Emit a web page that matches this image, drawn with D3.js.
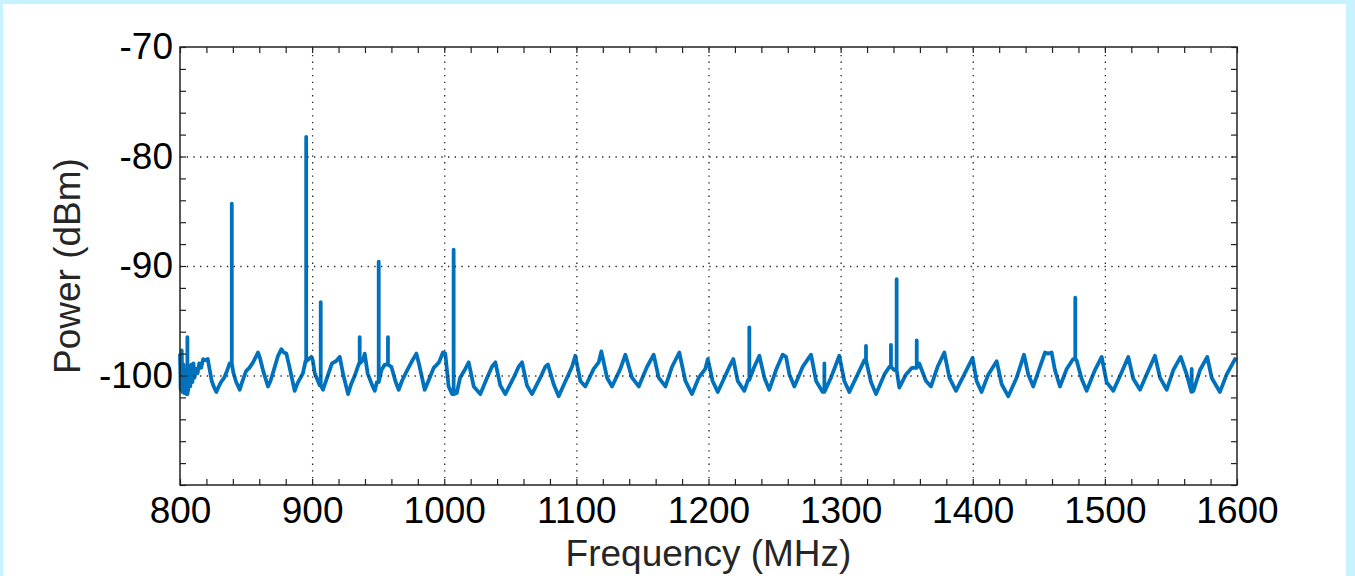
<!DOCTYPE html>
<html>
<head>
<meta charset="utf-8">
<script src="https://cdn.jsdelivr.net/npm/d3@7"></script>
<style>
  html, body { margin: 0; padding: 0; }
  body { width: 1355px; height: 576px; background: #c6f3ff; overflow: hidden; position: relative; }
  #panel { position: absolute; left: 3px; top: 4px; width: 1343px; height: 572px; background: #fff; }
  svg { position: absolute; left: 0; top: 0; }
  text { font-family: "Liberation Sans", Arial, sans-serif; }
</style>
</head>
<body>
<div id="panel"></div>
<svg id="chart" width="1355" height="576"></svg>
<script>
// x ticks (MHz) and y ticks (dBm)
const xTicks = [800, 900, 1000, 1100, 1200, 1300, 1400, 1500, 1600];
const yTicks = [-100, -90, -80, -70];
const xDomain = [800, 1600];
const yDomain = [-110, -70];

// measured trace: [frequency MHz, power dBm]
const trace = [
  [800, -98.0], [800.5, -101.3], [801.3, -97.7], [801.8, -101.5], [802.6, -99.0], [803.2, -101.6],
  [804, -99.5], [804.8, -101.7], [806.2, -101.3], [807, -99.2], [807.8, -101.0], [808.6, -99.0],
  [809.4, -100.6], [810.2, -98.9], [811, -100.2], [812, -99.4], [813.3, -99.8], [814.5, -98.9],
  [816, -99.3], [817.5, -98.5], [819, -98.6], [821, -98.5], [822.5, -99.5], [824, -100.5],
  [825.5, -101.0], [827.5, -101.5], [829, -101.1], [831, -100.6], [833.5, -100.2], [835.5, -99.6],
  [837.6, -98.9], [840.5, -99.8], [842.5, -100.6], [845.2, -101.3], [847, -100.6], [850, -99.6],
  [852.5, -99.3], [855.3, -98.8], [857, -98.4], [859, -97.9], [860.5, -98.4], [863, -99.6],
  [866.6, -101.0], [868.5, -100.5], [871.5, -99.3], [874.2, -98.2], [876.7, -97.6], [878.5, -97.9],
  [880.5, -98.0], [883, -99.3], [886.8, -101.4], [889, -100.7], [893, -99.8], [895, -98.7],
  [899.4, -98.3], [900.5, -98.6], [902, -99.8], [905.7, -100.9], [908.2, -101.3], [911, -100.3],
  [915, -98.9], [918, -98.7], [920.9, -98.3], [923.5, -99.9], [927.2, -101.7], [929.5, -100.8],
  [932, -100.1], [935.5, -98.9], [938.5, -98.6], [939.8, -98.0], [942, -99.8], [945.5, -100.9],
  [947.4, -101.4], [949, -100.6], [952.5, -99.5], [955, -99.0], [960, -99.2], [963, -100.5],
  [965.5, -101.3], [968, -100.5], [972, -99.5], [976, -98.6], [978.9, -98.0], [981, -99.0],
  [985.2, -101.3], [988, -100.5], [992, -99.3], [996, -98.8], [999, -97.9], [1000.8, -98.0],
  [1003.3, -101.0], [1006, -101.7], [1009.5, -101.6], [1012, -100.2], [1015.9, -99.4], [1018.5, -98.8],
  [1022.3, -101.0], [1027.3, -101.7], [1032.4, -100.2], [1036.1, -99.2], [1038.7, -98.8], [1042.4, -100.9],
  [1046.2, -101.7], [1052.5, -100.2], [1056.3, -99.2], [1058.9, -98.8], [1062.6, -100.9], [1066.4, -101.7],
  [1072.7, -100.2], [1076.5, -99.2], [1078.5, -99.0], [1082.8, -100.8], [1086.6, -101.9], [1092.9, -100.2],
  [1096.7, -99.2], [1099.2, -98.2], [1103, -100.5], [1106.8, -101.0], [1113.1, -99.4], [1116.9, -98.8],
  [1118.9, -97.8], [1123.2, -100.2], [1127, -101.0], [1133.3, -99.4], [1137.1, -98.1], [1142.1, -100.2],
  [1147.2, -101.0], [1153.5, -99.2], [1158.5, -98.1], [1162.3, -100.2], [1167.4, -101.0], [1172.4, -99.2],
  [1177.9, -97.9], [1182.5, -100.5], [1187.5, -101.7], [1192.6, -100.2], [1197.6, -99.4], [1199.5, -98.5],
  [1203.1, -100.5], [1207, -101.5], [1212, -100.2], [1215.8, -99.2], [1218.8, -98.5], [1222.1, -100.5],
  [1227.1, -101.4], [1230, -100.4], [1234.7, -99.2], [1238.5, -98.2], [1242.3, -100.2], [1246, -101.3],
  [1251.1, -99.5], [1256.1, -98.1], [1258.7, -98.3], [1261.2, -99.9], [1265, -101.0], [1271.3, -99.2],
  [1277.6, -98.1], [1281.4, -100.5], [1286.4, -101.5], [1292.7, -100.2], [1299, -98.2], [1302.8, -100.5],
  [1306.6, -101.5], [1312.9, -99.9], [1318, -98.6], [1323, -100.6], [1326.8, -101.7], [1333.1, -99.9],
  [1337, -99.2], [1340.5, -99.5], [1344.4, -101.1], [1349.5, -99.9], [1354, -99.3], [1359.5, -98.9],
  [1364.6, -100.5], [1368.4, -101.0], [1373.4, -99.2], [1378.5, -97.9], [1382.3, -100.2], [1387.3, -101.4],
  [1393.6, -99.9], [1399.9, -98.4], [1402.9, -100.5], [1406.7, -101.5], [1411.8, -99.9], [1418.1, -98.7],
  [1421.9, -100.8], [1426.9, -101.9], [1433.2, -100.2], [1438.8, -98.1], [1442, -99.9], [1445.8, -101.0],
  [1450.9, -99.2], [1454.7, -97.9], [1457, -98.0], [1459.7, -97.9], [1462.2, -99.5], [1466, -101.0],
  [1471.1, -99.4], [1476, -98.5], [1478.6, -98.6], [1482.4, -100.3], [1486.2, -101.4], [1492.5, -99.5],
  [1497.6, -98.3], [1501.3, -100.6], [1506.4, -101.4], [1512.7, -99.7], [1517.7, -98.3], [1521.5, -100.3],
  [1526.6, -101.3], [1531.6, -99.9], [1537.9, -98.2], [1541.7, -100.2], [1546.8, -101.3], [1551.8, -99.5],
  [1557.4, -98.3], [1561.9, -99.9], [1565.5, -101.5], [1567, -101.4], [1572, -99.5], [1577.5, -98.3],
  [1580.8, -100.2], [1587.1, -101.5], [1592.2, -99.9], [1598.5, -98.5], [1600, -98.6]
];

// narrow spurs: [frequency MHz, peak dBm]
const spurs = [
  [805.6, -96.5], [839.2, -84.3], [895.5, -78.2], [906.5, -93.3], [936, -96.5], [950.4, -89.6],
  [957.4, -96.5], [1007.1, -88.5], [1230.9, -95.6], [1287.7, -98.9], [1319.2, -97.3], [1338.1, -97.2],
  [1342.4, -91.2], [1357.6, -96.8], [1477.6, -92.9], [1565.7, -99.4]
];

const margin = { top: 47, right: 118, bottom: 91, left: 180 };
const width = 1355 - margin.left - margin.right;
const height = 576 - margin.top - margin.bottom;

const x = d3.scaleLinear().domain(xDomain).range([0, width]);
const y = d3.scaleLinear().domain(yDomain).range([height, 0]);

const svg = d3.select('#chart');
const g = svg.append('g').attr('transform', `translate(${margin.left}, ${margin.top})`);

// merge the spurs into the trace: up from the previous sample and back down
let pts = [];
let si = 0;
const sortedSpurs = spurs.slice().sort((a, b) => a[0] - b[0]);
trace.forEach(p => {
  while (si < sortedSpurs.length && sortedSpurs[si][0] < p[0]) {
    const base = pts.length ? pts[pts.length - 1][1] : p[1];
    pts.push([sortedSpurs[si][0], base]);
    pts.push([sortedSpurs[si][0], sortedSpurs[si][1]]);
    pts.push([sortedSpurs[si][0], base]);
    si++;
  }
  pts.push(p);
});

const line = d3.line().x(d => x(d[0])).y(d => y(d[1]));

g.append('path')
  .datum(pts)
  .attr('fill', 'none')
  .attr('stroke', '#0072bd')
  .attr('stroke-width', 3.8)
  .attr('stroke-linejoin', 'round')
  .attr('d', line);

// dotted grid
const gridStyle = sel => {
  sel.select('.domain').remove();
  sel.selectAll('text').remove();
  sel.selectAll('line').attr('stroke', '#222').attr('stroke-width', 1.3).attr('stroke-dasharray', '1.3,5.4');
};
g.append('g')
  .attr('transform', `translate(0, ${height})`)
  .call(d3.axisBottom(x).tickValues(xTicks.slice(1, -1)).tickSize(-height))
  .call(gridStyle);
g.append('g')
  .call(d3.axisLeft(y).tickValues(yTicks.slice(0, -1)).tickSize(-width))
  .call(gridStyle);

// minor ticks
const xMinor = d3.range(800, 1601, 20);
const yMinor = d3.range(-110, -69, 2);
const tickStyle = sel => {
  sel.select('.domain').remove();
  sel.selectAll('text').remove();
  sel.selectAll('line').attr('stroke', '#222').attr('stroke-width', 1.2);
};
g.append('g').attr('transform', `translate(0, ${height})`)
  .call(d3.axisBottom(x).tickValues(xMinor).tickSize(-6)).call(tickStyle);
g.append('g')
  .call(d3.axisTop(x).tickValues(xMinor).tickSize(-6)).call(tickStyle);
g.append('g')
  .call(d3.axisLeft(y).tickValues(yMinor).tickSize(-6)).call(tickStyle);
g.append('g').attr('transform', `translate(${width}, 0)`)
  .call(d3.axisRight(y).tickValues(yMinor).tickSize(-6)).call(tickStyle);

// box
g.append('rect')
  .attr('x', 0).attr('y', 0)
  .attr('width', width).attr('height', height)
  .attr('fill', 'none')
  .attr('stroke', '#222')
  .attr('stroke-width', 1.5);

// tick labels (plain hyphen minus, as in the source figure)
const xLab = g.append('g')
  .attr('transform', `translate(0, ${height})`)
  .call(d3.axisBottom(x).tickValues(xTicks).tickSize(0).tickPadding(12).tickFormat(d => String(d)));
xLab.select('.domain').remove();
xLab.selectAll('text').attr('font-size', 37).attr('fill', '#000')
  .attr('font-family', '"Liberation Sans", Arial, sans-serif');

const yLab = g.append('g')
  .call(d3.axisLeft(y).tickValues(yTicks).tickSize(0).tickPadding(7).tickFormat(d => String(d)));
yLab.select('.domain').remove();
yLab.selectAll('text').attr('font-size', 37).attr('fill', '#000')
  .attr('font-family', '"Liberation Sans", Arial, sans-serif');

// axis titles
g.append('text')
  .attr('x', width / 2)
  .attr('y', height + 81)
  .attr('text-anchor', 'middle')
  .attr('font-size', 37)
  .attr('fill', '#262626')
  .text('Frequency (MHz)');

g.append('text')
  .attr('transform', `translate(${80 - margin.left}, ${height / 2}) rotate(-90)`)
  .attr('text-anchor', 'middle')
  .attr('font-size', 37)
  .attr('fill', '#262626')
  .text('Power (dBm)');
</script>
</body>
</html>
